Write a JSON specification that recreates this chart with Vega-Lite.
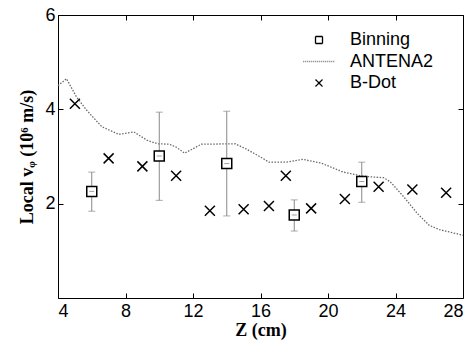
{
  "$schema": "https://vega.github.io/schema/vega-lite/v6.json",
  "width": 405,
  "height": 283,
  "autosize": {"type": "none"},
  "padding": {"left": 58, "top": 15, "right": 12, "bottom": 42},
  "background": "white",
  "config": {
    "view": {"stroke": "black", "strokeWidth": 1},
    "axis": {
      "grid": false,
      "domain": false,
      "tickColor": "black",
      "tickSize": -5,
      "labelFont": "Liberation Sans",
      "labelFontSize": 18,
      "labelColor": "black",
      "titleFont": "Liberation Serif",
      "titleFontSize": 18,
      "titleFontWeight": "bold",
      "titleColor": "black"
    }
  },
  "datasets": {
    "antena": [
      {"z": 4.0, "v": 4.5}, {"z": 4.5, "v": 4.65}, {"z": 5.1, "v": 4.26}, {"z": 5.7, "v": 3.98},
      {"z": 6.6, "v": 3.63}, {"z": 7.6, "v": 3.47}, {"z": 8.5, "v": 3.52}, {"z": 9.3, "v": 3.34},
      {"z": 9.9, "v": 3.27}, {"z": 10.6, "v": 3.26}, {"z": 11.0, "v": 3.2}, {"z": 11.5, "v": 3.07},
      {"z": 12.5, "v": 3.26}, {"z": 14.5, "v": 3.27}, {"z": 15.2, "v": 3.15}, {"z": 16.0, "v": 2.99},
      {"z": 16.5, "v": 2.88}, {"z": 17.5, "v": 2.88}, {"z": 18.5, "v": 2.94}, {"z": 19.6, "v": 2.86},
      {"z": 20.9, "v": 2.67}, {"z": 22.1, "v": 2.58}, {"z": 23.3, "v": 2.55}, {"z": 23.7, "v": 2.46},
      {"z": 24.5, "v": 2.14}, {"z": 25.3, "v": 1.79}, {"z": 26.0, "v": 1.54}, {"z": 26.6, "v": 1.45},
      {"z": 28.0, "v": 1.33}
    ],
    "bin": [
      {"z": 6, "v": 2.26, "lo": 1.84, "hi": 2.67, "series": "Binning"},
      {"z": 10, "v": 3.01, "lo": 2.07, "hi": 3.94, "series": "Binning"},
      {"z": 14, "v": 2.85, "lo": 1.74, "hi": 3.96, "series": "Binning"},
      {"z": 18, "v": 1.76, "lo": 1.42, "hi": 2.08, "series": "Binning"},
      {"z": 22, "v": 2.47, "lo": 2.03, "hi": 2.88, "series": "Binning"}
    ],
    "bdot": [
      {"z": 5, "v": 4.12, "series": "B-Dot"}, {"z": 7, "v": 2.96, "series": "B-Dot"},
      {"z": 9, "v": 2.79, "series": "B-Dot"}, {"z": 11, "v": 2.59, "series": "B-Dot"},
      {"z": 13, "v": 1.85, "series": "B-Dot"}, {"z": 15, "v": 1.88, "series": "B-Dot"},
      {"z": 16.5, "v": 1.95, "series": "B-Dot"}, {"z": 17.5, "v": 2.59, "series": "B-Dot"},
      {"z": 19, "v": 1.9, "series": "B-Dot"}, {"z": 21, "v": 2.1, "series": "B-Dot"},
      {"z": 23, "v": 2.36, "series": "B-Dot"}, {"z": 25, "v": 2.3, "series": "B-Dot"},
      {"z": 27, "v": 2.23, "series": "B-Dot"}
    ]
  },
  "layer": [
    {
      "data": {"name": "antena"},
      "mark": {"type": "line", "color": "#6a6a6a", "strokeDash": [1.5, 1.5], "strokeWidth": 1.3},
      "encoding": {
        "x": {"field": "z", "type": "quantitative", "scale": {"domain": [4, 28], "nice": false, "zero": false},
          "axis": {"orient": "bottom", "values": [4, 8, 12, 16, 20, 24, 28], "title": "Z (cm)", "labelPadding": 9, "titlePadding": 1}},
        "y": {"field": "v", "type": "quantitative", "scale": {"domain": [0, 6], "nice": false},
          "axis": {"orient": "left", "values": [2, 4, 6], "title": "Local vᵩ (10⁶ m/s)", "labelPadding": 8, "titlePadding": 8}}
      }
    },
    {
      "data": {"name": "bin"},
      "mark": {"type": "rule", "color": "#888", "strokeWidth": 1},
      "encoding": {
        "x": {"field": "z", "type": "quantitative", "axis": {"orient": "top", "values": [4, 8, 12, 16, 20, 24, 28], "labels": false, "title": null}},
        "y": {"field": "lo", "type": "quantitative", "axis": {"orient": "right", "values": [2, 4, 6], "labels": false, "title": null}},
        "y2": {"field": "hi"}
      }
    },
    {
      "data": {"name": "bin"},
      "mark": {"type": "tick", "orient": "horizontal", "color": "#888", "size": 7, "thickness": 1},
      "encoding": {
        "x": {"field": "z", "type": "quantitative", "axis": null},
        "y": {"field": "lo", "type": "quantitative", "axis": null}
      }
    },
    {
      "data": {"name": "bin"},
      "mark": {"type": "tick", "orient": "horizontal", "color": "#888", "size": 7, "thickness": 1},
      "encoding": {
        "x": {"field": "z", "type": "quantitative", "axis": null},
        "y": {"field": "hi", "type": "quantitative", "axis": null}
      }
    },
    {
      "data": {"name": "bin"},
      "mark": {"type": "point", "filled": false, "fill": "white", "fillOpacity": 1, "stroke": "black", "strokeWidth": 1.5, "size": 100, "opacity": 1},
      "encoding": {
        "x": {"field": "z", "type": "quantitative", "axis": null},
        "y": {"field": "v", "type": "quantitative", "axis": null},
        "shape": {"field": "series", "type": "nominal",
          "scale": {"domain": ["Binning", "ANTENA2", "B-Dot"], "range": ["square", "M-4.5,0H4.5", "M-1,-1L1,1M-1,1L1,-1"]},
          "legend": {
            "title": null, "orient": "none", "legendX": 246, "legendY": 16,
            "labelFont": "Liberation Sans", "labelFontSize": 18, "labelColor": "black",
            "symbolSize": 49, "symbolStrokeWidth": 1.3, "rowPadding": 3.5, "labelOffset": 22, "symbolOffset": 6,
            "encoding": {"symbols": {
              "stroke": {"condition": {"test": "datum.value === 'ANTENA2'", "value": "#777"}, "value": "black"},
              "strokeDash": {"condition": {"test": "datum.value === 'ANTENA2'", "value": [1, 1]}, "value": [1, 0]},
              "fill": {"value": "transparent"}
            }}
          }}
      }
    },
    {
      "data": {"name": "bin"},
      "mark": {"type": "tick", "orient": "horizontal", "color": "#777", "size": 5, "thickness": 1},
      "encoding": {
        "x": {"field": "z", "type": "quantitative", "axis": null},
        "y": {"field": "v", "type": "quantitative", "axis": null}
      }
    },
    {
      "data": {"name": "bdot"},
      "mark": {"type": "point", "filled": false, "stroke": "black", "strokeWidth": 1.5, "size": 100, "opacity": 1},
      "encoding": {
        "x": {"field": "z", "type": "quantitative", "axis": null},
        "y": {"field": "v", "type": "quantitative", "axis": null},
        "shape": {"field": "series", "type": "nominal"}
      }
    }
  ],
  "resolve": {"axis": {"x": "independent", "y": "independent"}}
}
